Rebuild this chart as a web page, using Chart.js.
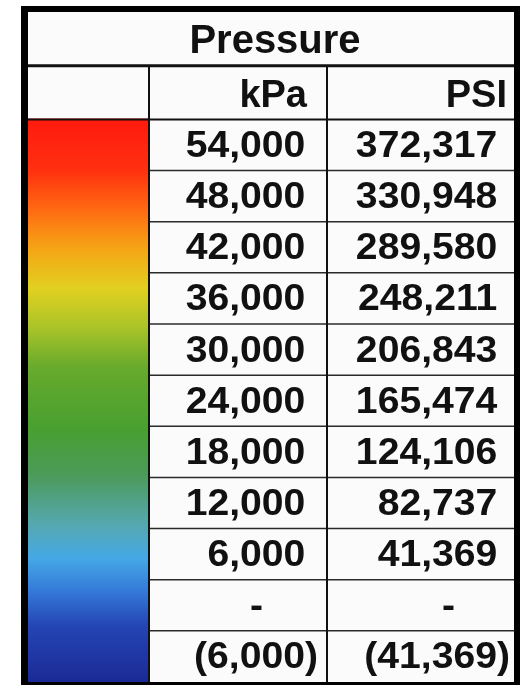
<!DOCTYPE html>
<html><head><meta charset="utf-8">
<script src="https://cdn.jsdelivr.net/npm/chart.js@4"></script>
<style>html,body{margin:0;padding:0;background:#fff;overflow:hidden}canvas{display:block}</style>
</head><body>
<canvas id="c" width="521" height="685"></canvas>
<script>
// ---- data ----
const title = 'Pressure';
const columnLabels = ['kPa', 'PSI'];
const kpaValues = [54000, 48000, 42000, 36000, 30000, 24000, 18000, 12000, 6000, 0, -6000];
const psiValues = [372317, 330948, 289580, 248211, 206843, 165474, 124106, 82737, 41369, 0, -41369];

// ---- style / layout (kept apart from data) ----
const colorStops = [
  [0.00, '#ff1a0e'], [0.09, '#ff3010'], [0.16, '#ff6a12'], [0.23, '#f5a515'],
  [0.30, '#e2d020'], [0.37, '#aac428'], [0.44, '#68aa2c'], [0.55, '#48a030'],
  [0.63, '#4c9a58'], [0.72, '#55a8b0'], [0.78, '#45a8e6'], [0.84, '#3478d8'],
  [0.90, '#2545b5'], [1.00, '#1a2a95']
];
const L = {
  xMax: 486, barEnd: 121, kpaEnd: 299,
  yMin: -2.1, headSplit: -1.05,
  dataFont: 'bold 38px "Liberation Sans", Arial, sans-serif',
  headFont: 'bold 38px "Liberation Sans", Arial, sans-serif',
  titleFont: 'bold 40px "Liberation Sans", Arial, sans-serif',
  ink: '#111'
};
const nRows = kpaValues.length;

function fmt(v) { return Math.abs(v).toLocaleString('en-US'); }

const tablePlugin = {
  id: 'table',
  beforeDraw(chart) {
    const { ctx, width, height, chartArea: a } = chart;
    ctx.save();
    ctx.fillStyle = '#ffffff';
    ctx.fillRect(0, 0, width, height);
    ctx.fillStyle = '#fbfbfb';
    ctx.fillRect(a.left, a.top, a.right - a.left, a.bottom - a.top);
    ctx.restore();
  },
  afterDatasetsDraw(chart) {
    const { ctx, chartArea: a } = chart;
    const xs = chart.scales.x, ys = chart.scales.y;
    const X = v => xs.getPixelForValue(v), Y = v => ys.getPixelForValue(v);
    ctx.save();
    // row rules in text columns
    ctx.lineWidth = 1.5;
    ctx.strokeStyle = '#2a2a2a';
    for (let i = 1; i < nRows; i++) {
      ctx.beginPath(); ctx.moveTo(X(L.barEnd), Y(i)); ctx.lineTo(a.right, Y(i)); ctx.stroke();
    }
    ctx.strokeStyle = L.ink;
    ctx.lineWidth = 2;
    ctx.beginPath(); ctx.moveTo(a.left, Y(0)); ctx.lineTo(a.right, Y(0)); ctx.stroke();
    ctx.lineWidth = 3;
    ctx.beginPath(); ctx.moveTo(a.left, Y(L.headSplit)); ctx.lineTo(a.right, Y(L.headSplit)); ctx.stroke();
    ctx.lineWidth = 2;
    [L.barEnd, L.kpaEnd].forEach(v => {
      ctx.beginPath(); ctx.moveTo(X(v), Y(L.headSplit)); ctx.lineTo(X(v), a.bottom); ctx.stroke();
    });
    // frame
    ctx.fillStyle = '#000';
    ctx.fillRect(a.left - 7, a.top - 6, a.right - a.left + 13, 6);
    ctx.fillRect(a.left - 7, a.top - 6, 7, a.bottom - a.top + 9);
    ctx.fillRect(a.right, a.top - 6, 6, a.bottom - a.top + 9);
    ctx.fillRect(a.left - 7, a.bottom, a.right - a.left + 13, 3);

    // texts
    ctx.fillStyle = L.ink;
    ctx.textBaseline = 'alphabetic';
    const rowMid = (lo, hi) => (Y(lo) + Y(hi)) / 2;
    ctx.font = L.titleFont;
    ctx.textAlign = 'center';
    ctx.fillText(title, X(247), rowMid(L.yMin, L.headSplit) + 14);
    ctx.font = L.headFont;
    ctx.textAlign = 'right';
    const hb = rowMid(L.headSplit, 0) + 14;
    ctx.fillText(columnLabels[0], X(L.kpaEnd) - 20, hb);
    ctx.fillText(columnLabels[1], a.right - 7, hb);

    ctx.font = L.dataFont;
    const paren = ctx.measureText(')').width;
    const digit = ctx.measureText('0').width;
    const drawAcct = (v, right, base) => {
      let txt, trail;
      if (v === 0) { txt = '-'; trail = 2 * digit + paren; }
      else if (v < 0) { txt = '(' + fmt(v) + ')'; trail = 0; }
      else { txt = fmt(v); trail = paren; }
      ctx.save();
      ctx.translate(right - trail, base);
      ctx.scale(1.03, 0.96);
      ctx.fillText(txt, 0, 0);
      ctx.restore();
    };
    for (let i = 0; i < nRows; i++) {
      const base = rowMid(i, i + 1) + 12;
      drawAcct(kpaValues[i], X(L.kpaEnd) - 9, base);
      drawAcct(psiValues[i], a.right - 4, base);
    }
    ctx.restore();
  }
};

const barData = kpaValues.map((v, i) => ({ y: i + 0.5, x: [0, L.barEnd] }));

new Chart(document.getElementById('c'), {
  type: 'bar',
  data: {
    datasets: [{
      label: 'Pressure scale',
      data: barData,
      borderWidth: 0,
      inflateAmount: 1,
      categoryPercentage: 1,
      barPercentage: 1,
      backgroundColor: (c) => {
        const ch = c.chart, ys = ch.scales.y;
        if (!ch.chartArea || !ys) return colorStops[0][1];
        const g = ch.ctx.createLinearGradient(0, ys.getPixelForValue(0), 0, ys.getPixelForValue(nRows));
        colorStops.forEach(([o, col]) => g.addColorStop(o, col));
        return g;
      }
    }]
  },
  options: {
    indexAxis: 'y',
    responsive: false,
    animation: false,
    events: [],
    layout: { padding: { left: 28, top: 12, right: 7, bottom: 3 } },
    plugins: { legend: { display: false }, tooltip: { enabled: false }, title: { display: false } },
    scales: {
      x: { type: 'linear', min: 0, max: L.xMax, display: false, offset: false, grace: 0 },
      y: {
        type: 'linear', min: L.yMin, max: nRows, reverse: true, display: false, offset: false, grace: 0,
        grid: { offset: false },
        afterBuildTicks: (s) => { s.ticks = Array.from({ length: nRows + 1 }, (_, i) => ({ value: i })); }
      }
    }
  },
  plugins: [tablePlugin]
});
</script>
</body></html>
